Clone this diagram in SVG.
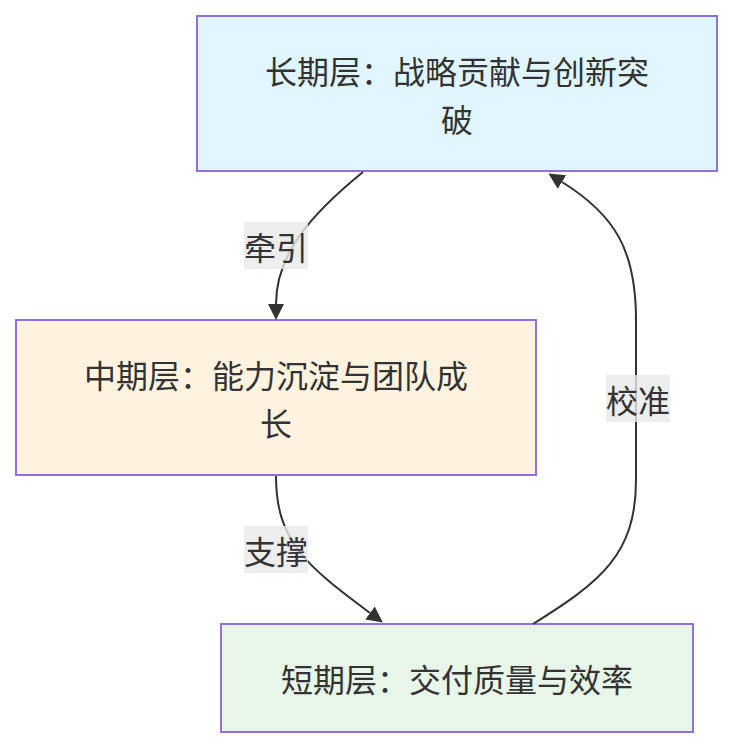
<svg xmlns="http://www.w3.org/2000/svg" width="733" height="748" viewBox="0 0 733 748">
<style>
.node rect{stroke:#9370DB;stroke-width:2}
.node text,.lbl text{font-family:"Noto Sans CJK SC","Noto Sans",sans-serif;font-size:32px;fill:#333;text-anchor:middle;dominant-baseline:central}
.edge{fill:none;stroke:#333;stroke-width:2}
.lbl rect{fill:rgba(232,232,232,0.8)}
</style>
<defs>
<marker id="arr" markerUnits="userSpaceOnUse" markerWidth="16" markerHeight="16" viewBox="0 0 10 10" refX="0" refY="5" orient="auto">
<path d="M0,0 L10,5 L0,10 z" fill="#333"/>
</marker>
</defs>
<rect width="733" height="748" fill="#fff"/>
<g id="nodes">
<g id="long" class="node">
<rect x="197" y="16" width="520" height="155" fill="#e1f5fe"/>
<text x="457" y="70">长期层：战略贡献与创新突</text>
<text x="457" y="118">破</text>
</g>
<g id="mid" class="node">
<rect x="16" y="320" width="520" height="155" fill="#fff3e0"/>
<text x="276" y="374">中期层：能力沉淀与团队成</text>
<text x="276" y="422">长</text>
</g>
<g id="short" class="node">
<rect x="221" y="624" width="472" height="108" fill="#e8f5e9"/>
<text x="457" y="678">短期层：交付质量与效率</text>
</g>
</g>
<g id="connectors">
<path class="edge" d="M363,172 C310,215 276,255 276,304" marker-end="url(#arr)"/>
<path class="edge" d="M276,476 C276,540 305,565 370,613" marker-end="url(#arr)"/>
<path class="edge" d="M533,624 C600,582 636,555 636,480 L636,320 C636,250 615,215 562,182" marker-end="url(#arr)"/>
<g class="lbl">
<rect x="244" y="222" width="64" height="47"/>
<text x="276" y="245.5">牵引</text>
</g>
<g class="lbl">
<rect x="244" y="526" width="64" height="47"/>
<text x="276" y="549.5">支撑</text>
</g>
<g class="lbl">
<rect x="606" y="375" width="64" height="47"/>
<text x="638" y="398.5">校准</text>
</g>
</g>
</svg>
